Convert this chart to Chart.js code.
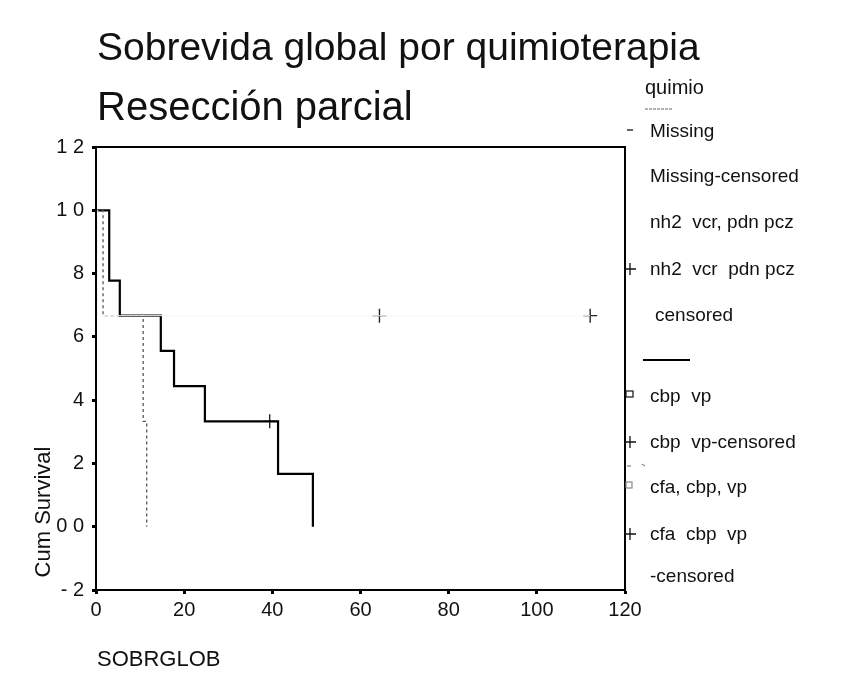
<!DOCTYPE html>
<html>
<head>
<meta charset="utf-8">
<script src="https://cdn.jsdelivr.net/npm/chart.js@4"></script>
<style>
  html, body { margin: 0; padding: 0; background: #fff; }
  #wrap { width: 843px; height: 689px; }
</style>
</head>
<body>
<div id="wrap"><canvas id="kmChart" width="843" height="689"></canvas></div>
<script>
// survival steps (months, cumulative survival)
const cbpTimes = [0, 3.0, 5.4, 14.7, 17.7, 24.7, 41.3, 49.2];
const cbpSurv = [1, 0.778, 0.667, 0.556, 0.444, 0.333, 0.167, 0];
const cbpCensTimes = [39.4];
const cbpCensSurv = [0.333];

const cfaTimes = [0, 1.6, 10.7, 11.5];
const cfaSurv = [1, 0.667, 0.333, 0];

const nh2Times = [0, 0.3, 112.1];
const nh2Surv = [1, 0.667, 0.667];
const nh2CensTimes = [64.3, 112.1];
const nh2CensSurv = [0.667, 0.667];

const xTicks = [0, 20, 40, 60, 80, 100, 120];
const yTickValues = [-0.2, 0, 0.2, 0.4, 0.6, 0.8, 1.0, 1.2];
const yTickLabels = ['- 2', '0 0', '2', '4', '6', '8', '1 0', '1 2'];

const titleText = 'Sobrevida global por quimioterapia';
const subtitleText = 'Resección parcial';
const legendTitle = 'quimio';
const legendLabels = [
  'Missing',
  'Missing-censored',
  'nh2  vcr, pdn pcz',
  'nh2  vcr  pdn pcz',
  'censored',
  'cbp  vp',
  'cbp  vp-censored',
  'cfa, cbp, vp',
  'cfa  cbp  vp',
  '-censored'
];

const FONT = '"Liberation Sans", Arial, sans-serif';

function pts(xs, ys) {
  return xs.map((x, i) => ({ x: x, y: ys[i] }));
}

const spssText = {
  id: 'spssText',
  afterDraw(chart) {
    const ctx = chart.ctx;
    const a = chart.chartArea;
    ctx.save();

    // frame around the plot
    ctx.strokeStyle = '#000';
    ctx.lineWidth = 2;
    ctx.strokeRect(a.left, a.top, a.right - a.left, a.bottom - a.top);

    ctx.fillStyle = '#111';
    ctx.textAlign = 'left';
    ctx.textBaseline = 'alphabetic';
    ctx.font = '39px ' + FONT;
    ctx.fillText(titleText, 97, 60);
    ctx.font = '40px ' + FONT;
    ctx.fillText(subtitleText, 97, 120);

    // axis titles
    ctx.font = '22px ' + FONT;
    ctx.fillText('SOBRGLOB', 97, 666);
    ctx.save();
    ctx.translate(50, 512);
    ctx.rotate(-Math.PI / 2);
    ctx.textAlign = 'center';
    ctx.fillText('Cum Survival', 0, 0);
    ctx.restore();

    // legend
    ctx.font = '20px ' + FONT;
    ctx.fillText(legendTitle, 645, 94);
    ctx.strokeStyle = '#666';
    ctx.lineWidth = 1;
    ctx.setLineDash([3, 1]);
    ctx.beginPath(); ctx.moveTo(645, 109); ctx.lineTo(672, 109); ctx.stroke();
    ctx.setLineDash([]);

    ctx.font = '19px ' + FONT;
    ctx.textBaseline = 'middle';
    const ys = [132, 177, 223, 270, 316, 397, 443, 488, 535, 577];
    const textX = [650, 650, 650, 650, 655, 650, 650, 650, 650, 650];
    legendLabels.forEach((t, i) => ctx.fillText(t, textX[i], ys[i]));

    // legend markers
    ctx.strokeStyle = '#111';
    ctx.lineWidth = 1.3;
    const cross = (x, y) => {
      ctx.beginPath();
      ctx.moveTo(x - 6, y); ctx.lineTo(x + 6, y);
      ctx.moveTo(x, y - 6); ctx.lineTo(x, y + 6);
      ctx.stroke();
    };
    ctx.beginPath(); ctx.moveTo(627, 130); ctx.lineTo(633, 130); ctx.stroke();
    cross(630, ys[3] - 1);
    cross(630, ys[6] - 1);
    cross(630, ys[8] - 1);
    ctx.lineWidth = 1.2;
    ctx.strokeRect(626, ys[5] - 6, 7, 6);
    ctx.strokeStyle = '#888';
    ctx.strokeRect(626, ys[7] - 6, 6, 6);

    // line samples
    ctx.strokeStyle = '#000';
    ctx.lineWidth = 2;
    ctx.beginPath(); ctx.moveTo(643, 360); ctx.lineTo(690, 360); ctx.stroke();
    ctx.strokeStyle = '#666';
    ctx.lineWidth = 1;
    ctx.beginPath(); ctx.moveTo(627, 466); ctx.lineTo(631, 466); ctx.moveTo(642, 464); ctx.lineTo(645, 466); ctx.stroke();

    ctx.restore();
  }
};

const ctxKm = document.getElementById('kmChart');

new Chart(ctxKm, {
  type: 'line',
  data: {
    datasets: [
      {
        label: 'nh2 vcr, pdn pcz',
        data: pts(nh2Times, nh2Surv),
        stepped: 'before',
        borderColor: '#f7f7f7',
        borderWidth: 1,
        pointRadius: 0,
        fill: false
      },
      {
        label: 'cfa, cbp, vp',
        data: pts(cfaTimes, cfaSurv),
        stepped: 'before',
        borderColor: '#555',
        borderWidth: 1.3,
        borderDash: [3, 3],
        pointRadius: 0,
        fill: false
      },
      {
        label: 'cbp vp',
        data: pts(cbpTimes, cbpSurv),
        stepped: 'before',
        borderColor: '#000',
        borderWidth: 2.2,
        pointRadius: 0,
        fill: false
      },
      {
        type: 'scatter',
        label: 'cbp vp-censored',
        data: pts(cbpCensTimes, cbpCensSurv),
        pointStyle: 'cross',
        pointRadius: 7,
        borderColor: '#222',
        borderWidth: 1.4,
        showLine: false
      },
      {
        type: 'scatter',
        label: 'nh2 vcr pdn pcz censored',
        data: pts(nh2CensTimes, nh2CensSurv),
        pointStyle: 'cross',
        pointRadius: 7,
        borderColor: '#222',
        borderWidth: 1.4,
        showLine: false
      }
    ]
  },
  options: {
    responsive: false,
    animation: false,
    layout: {
      padding: { top: 147, right: 218, bottom: 59, left: 0 }
    },
    plugins: {
      legend: { display: false },
      title: { display: false },
      tooltip: { enabled: false }
    },
    scales: {
      x: {
        type: 'linear',
        min: 0,
        max: 120,
        afterBuildTicks: (scale) => { scale.ticks = xTicks.map(v => ({ value: v })); },
        afterFit: (scale) => { scale.height = 40; },
        ticks: {
          color: '#111',
          font: { size: 20, family: FONT },
          padding: 4,
          maxRotation: 0
        },
        grid: {
          drawOnChartArea: false,
          tickLength: 4,
          tickWidth: 3,
          color: '#000'
        },
        border: { color: '#000', width: 2 }
      },
      y: {
        type: 'linear',
        min: -0.2,
        max: 1.2,
        afterBuildTicks: (scale) => { scale.ticks = yTickValues.map(v => ({ value: v })); },
        afterFit: (scale) => { scale.width = 96; },
        ticks: {
          color: '#111',
          font: { size: 20, family: FONT },
          padding: 8,
          callback: (value, index) => yTickLabels[index]
        },
        grid: {
          drawOnChartArea: false,
          tickLength: 4,
          tickWidth: 3,
          color: '#000'
        },
        border: { color: '#000', width: 2 }
      }
    }
  },
  plugins: [spssText]
});
</script>
</body>
</html>
